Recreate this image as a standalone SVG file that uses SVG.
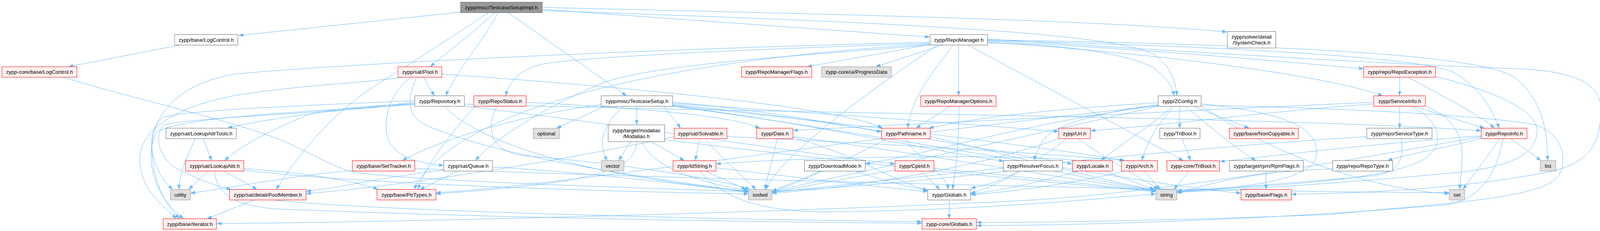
<svg xmlns="http://www.w3.org/2000/svg" width="4104" height="592" viewBox="0 0 4104 592">
<defs>
<marker id="a" markerUnits="userSpaceOnUse" markerWidth="12" markerHeight="9" refX="12" refY="4.5" orient="auto"><path d="M0,0 L12,4.5 L0,9 z" fill="#63b8ff"/></marker>
</defs>
<style>
.e{fill:none;stroke:#63b8ff;stroke-width:1;marker-end:url(#a)}
.n rect{stroke-width:1}
.w rect{fill:#ffffff;stroke:#666666}
.r rect{fill:#fff0f0;stroke:#ff0000}
.g rect{fill:#e0e0e0;stroke:#999999}
.root rect{fill:#999999;stroke:#666666}
text{font-family:"Liberation Sans",Arial,Helvetica,sans-serif;font-size:13.33px;fill:#000;text-anchor:middle}
</style>
<rect width="4104" height="592" fill="#ffffff"/>
<g id="connectors">
<path class="e" d="M1180,31 L611,91"/>
<path class="e" d="M1267,32.5 C1210,85 1150,130 1101,171"/>
<path class="e" d="M1275,32.5 C1240,100 1170,180 1141,245.5"/>
<path class="e" d="M1301,32.5 L1604,245.5"/>
<path class="e" d="M1388,24 L2380,95"/>
<path class="e" d="M1388,19 C2100,36 2800,50 3141,82"/>
<path class="e" d="M1388,27 C2200,55 2850,80 2955,140 C2995,170 3008,200 3013,245.5"/>
<path class="e" d="M1250,32.5 C1150,100 1050,163 960,220 C850,290 760,400 707,485.5"/>
<path class="e" d="M460,115.5 L175,171"/>
<path class="e" d="M161,198 C350,255 600,310 730,363 C800,395 860,430 900,440 C1000,458 1400,475 1916,491"/>
<path class="e" d="M2382,114 L2066,171"/>
<path class="e" d="M2413,115.5 L2242,171"/>
<path class="e" d="M2440,115.5 C2400,170 2330,250 2324,328.5"/>
<path class="e" d="M2454,115.5 L2454,245.5"/>
<path class="e" d="M2478,115.5 L3029,411.5"/>
<path class="e" d="M2381,108 C1500,130 800,170 600,190 C430,220 380,320 390,400 C395,480 430,530 460,560.5"/>
<path class="e" d="M2381,111 C1800,130 1450,150 1380,166 C1330,180 1305,210 1294,245.5"/>
<path class="e" d="M2381,113 C1600,160 1150,300 1060,485.5"/>
<path class="e" d="M2381,115 C2100,140 1700,160 1550,210 C1400,270 1260,360 1217,411.5"/>
<path class="e" d="M2528,105 C3000,130 3300,160 3491,176"/>
<path class="e" d="M2528,108 C3000,140 3400,195 3540,245.5"/>
<path class="e" d="M2528,104 C3200,120 3650,150 3720,185 C3790,225 3820,280 3838,328.5"/>
<path class="e" d="M2528,102 C3300,115 3800,140 3880,200 C3950,260 3960,330 3962,411.5"/>
<path class="e" d="M2528,100 C3300,150 3700,170 3850,175 C4000,178 4098,200 4098,280 C4098,380 4060,420 3960,442 C3700,490 3450,495 3306,498"/>
<path class="e" d="M2528,110 C2700,112 2880,135 2950,172 C2990,200 3000,220 3006,245.5"/>
<path class="e" d="M2400,115.5 C2200,250 2000,400 1960,485.5"/>
<path class="e" d="M1033,198 C900,215 750,220 600,245 C420,280 350,350 358,420 C365,490 420,530 452,560.5"/>
<path class="e" d="M1084,198 L1112,245.5"/>
<path class="e" d="M1053,198 C990,240 975,330 1000,370 C1030,410 1090,420 1136,424"/>
<path class="e" d="M1066,198 C1040,260 1040,300 1100,325 C1300,410 1700,460 1916,493"/>
<path class="e" d="M1131,190 C1500,215 2150,270 2259,328.5"/>
<path class="e" d="M1062,266 C950,270 850,280 800,290 C700,330 620,370 575,411.5"/>
<path class="e" d="M1062,262 C850,285 700,300 582,328.5"/>
<path class="e" d="M1062,258 C800,270 500,280 420,300 C370,330 380,430 442,485.5"/>
<path class="e" d="M1062,265 C850,290 500,300 420,320 C390,350 410,420 470,440 C520,465 560,478 592,485.5"/>
<path class="e" d="M1062,268 C800,285 450,300 400,340 C370,400 390,500 470,560.5"/>
<path class="e" d="M1138,272.5 C1200,340 1400,440 1916,490"/>
<path class="e" d="M1189,267 C2000,290 3300,300 3792,335"/>
<path class="e" d="M1189,272 C1600,320 2100,400 2291,420"/>
<path class="e" d="M1347,262 C1700,280 1880,300 1945,328.5"/>
<path class="e" d="M1272,272.5 C1245,330 1250,390 1350,400 C1600,420 1850,460 1920,485.5"/>
<path class="e" d="M1215,272.5 C1150,350 1090,420 1070,485.5"/>
<path class="e" d="M1548,272.5 L1425,328.5"/>
<path class="e" d="M1597,272.5 C1540,320 1530,370 1555,411.5"/>
<path class="e" d="M1630,272.5 L1630,320"/>
<path class="e" d="M1539,268 C1300,300 1100,370 1030,411.5"/>
<path class="e" d="M1700,272.5 C1720,300 1730,310 1742,328.5"/>
<path class="e" d="M1722,262 C1950,280 2150,320 2257,338"/>
<path class="e" d="M1722,265 C2100,290 2500,320 2710,337"/>
<path class="e" d="M1722,268 C2100,300 2500,380 2745,420"/>
<path class="e" d="M1722,270 C2200,320 2700,380 2880,411.5"/>
<path class="e" d="M1722,271 C2100,320 2400,390 2570,413"/>
<path class="e" d="M1722,272 C2300,350 2900,470 3177,495"/>
<path class="e" d="M2433,272.5 L2345,328.5"/>
<path class="e" d="M2455,272.5 C2455,350 2450,420 2438,485.5"/>
<path class="e" d="M3020,272.5 L3020,328.5"/>
<path class="e" d="M3055,272.5 L3198,328.5"/>
<path class="e" d="M3001,272.5 C2950,320 2870,370 2818,411.5"/>
<path class="e" d="M3006,272.5 C2960,320 2935,370 2923,411.5"/>
<path class="e" d="M3035,272.5 C3080,310 3150,370 3215,411.5"/>
<path class="e" d="M3075,266 C3300,290 3380,330 3370,400 C3360,460 3200,480 3013,492"/>
<path class="e" d="M3075,270 C3400,275 3800,295 3930,320 C4010,345 4010,420 3990,450 C3950,510 3700,520 3400,550 C3000,565 2700,570 2500,570"/>
<path class="e" d="M3075,272 C3300,420 3550,490 3710,496"/>
<path class="e" d="M2965,268 C2800,290 2700,320 2670,360 C2655,385 2650,400 2648,411.5"/>
<path class="e" d="M2965,270 C2600,320 2400,390 2215,420"/>
<path class="e" d="M2965,263 C2700,280 2500,300 2378,328.5"/>
<path class="e" d="M2965,272 C2500,380 2100,460 1976,492"/>
<path class="e" d="M2965,271 C2200,350 1500,470 1116,494"/>
<path class="e" d="M3583,272.5 L3583,328.5"/>
<path class="e" d="M3620,272.5 L3800,328.5"/>
<path class="e" d="M3649,272 C3720,300 3745,350 3743,400 C3742,440 3738,460 3737,485.5"/>
<path class="e" d="M3612,272.5 C3690,310 3700,370 3650,405 C3580,450 3400,470 3013,490"/>
<path class="e" d="M3517,266 C3200,290 3000,320 2792,335"/>
<path class="e" d="M3517,262 C3000,285 2300,320 2030,334"/>
<path class="e" d="M3583,198 L3583,245.5"/>
<path class="e" d="M3605,198 C3700,250 3780,290 3826,328.5"/>
<path class="e" d="M3675,196 C3850,240 3940,290 3935,340 C3930,400 3860,425 3750,440 C3600,455 3300,480 3013,493"/>
<path class="e" d="M3868,355.5 L3945,411.5"/>
<path class="e" d="M3839,355.5 C3810,400 3770,450 3745,485.5"/>
<path class="e" d="M3795,353 C3700,380 3600,395 3552,411.5"/>
<path class="e" d="M3792,348 C3500,370 3300,395 3123,414"/>
<path class="e" d="M3848,355.5 C3830,450 3790,510 3700,525 C3300,560 2800,578 2500,578"/>
<path class="e" d="M3792,350 C3300,440 2900,500 2600,515 C2000,545 1000,570 555,573"/>
<path class="e" d="M500,355.5 C480,400 460,440 458,485.5"/>
<path class="e" d="M520,355.5 L542,411.5"/>
<path class="e" d="M533,438.5 L483,485.5"/>
<path class="e" d="M574,438.5 L658,485.5"/>
<path class="e" d="M549,438.5 C555,500 600,525 700,535 C1300,560 2000,570 2360,572"/>
<path class="e" d="M624,432 C750,440 900,460 968,485.5"/>
<path class="e" d="M624,436 C900,470 1500,490 1916,497"/>
<path class="e" d="M1062,432 C1800,460 3000,490 3710,494"/>
<path class="e" d="M902,437 C750,450 600,480 487.5,495"/>
<path class="e" d="M1171,438.5 L1075,485.5"/>
<path class="e" d="M1136,436 C1000,450 880,480 783.5,490"/>
<path class="e" d="M1261,428 C1500,440 1800,480 1916,491"/>
<path class="e" d="M1614,363 L1584,411.5"/>
<path class="e" d="M1668,363 L1752,411.5"/>
<path class="e" d="M1643,363 C1670,420 1750,460 1916,489"/>
<path class="e" d="M1630,363 C1630,440 1500,470 1116,497"/>
<path class="e" d="M1701,358 C2200,420 2700,470 2959,491"/>
<path class="e" d="M1791,355.5 L1780,411.5"/>
<path class="e" d="M1806,355.5 C1850,410 1900,450 1935,485.5"/>
<path class="e" d="M1726,350 C1400,420 1000,480 783.5,496"/>
<path class="e" d="M1861,350 C2300,370 2700,395 2878,411.5"/>
<path class="e" d="M1806,438.5 L1910,485.5"/>
<path class="e" d="M1793,438.5 C1850,510 1950,540 2100,543 C2500,540 2800,510 2959,497"/>
<path class="e" d="M1833,430 C2000,450 2250,480 2375,491"/>
<path class="e" d="M1990,355.5 C1980,400 1965,450 1958,485.5"/>
<path class="e" d="M2030,350 C2400,400 2800,470 2959,489"/>
<path class="e" d="M2030,352 C2200,400 2300,470 2375,487"/>
<path class="e" d="M2319,355.5 C2340,400 2420,440 2428,485.5"/>
<path class="e" d="M2270,355.5 C2150,420 2050,460 1976,490"/>
<path class="e" d="M2381,350 C2600,400 2850,470 2959,487"/>
<path class="e" d="M2712,355 C2500,430 2200,480 1976,495"/>
<path class="e" d="M2760,355.5 C2850,420 2930,460 2965,485.5"/>
<path class="e" d="M2730,355.5 C2650,420 2550,480 2485,495"/>
<path class="e" d="M3026,355.5 L3048,411.5"/>
<path class="e" d="M3587,355.5 C3595,410 3580,440 3520,450 C3300,470 3100,485 3013,489"/>
<path class="e" d="M3499,350 C3000,380 2200,470 1976,493"/>
<path class="e" d="M2190,438.5 C2250,460 2320,478 2375,488"/>
<path class="e" d="M2105,438.5 C2060,460 2010,480 1976,492"/>
<path class="e" d="M2357,438.5 L2406,485.5"/>
<path class="e" d="M2291,436 C2150,460 2050,480 1976,494"/>
<path class="e" d="M2391,432 C2600,450 2850,480 2959,490"/>
<path class="e" d="M2607,438.5 C2570,460 2530,475 2485,482"/>
<path class="e" d="M2580,438.5 C2300,470 2100,485 1976,490"/>
<path class="e" d="M2700,438.5 C2800,460 2900,480 2959,487"/>
<path class="e" d="M2827,438.5 L2955,485.5"/>
<path class="e" d="M2760,411.5 C2600,395 2100,400 1833,420"/>
<path class="e" d="M2760,438.5 C2650,470 2550,490 2485,497"/>
<path class="e" d="M2930,438.5 L2970,485.5"/>
<path class="e" d="M2880,438.5 C2700,480 2550,495 2485,499"/>
<path class="e" d="M3044,438.5 L3005,485.5"/>
<path class="e" d="M3241,438.5 L3241,485.5"/>
<path class="e" d="M3411,433 C3200,440 3100,470 3013,495"/>
<path class="e" d="M650,512.5 L530,560.5"/>
<path class="e" d="M700,512.5 C1000,545 2000,565 2360,568"/>
<path class="e" d="M2430,512.5 L2430,560.5"/>
</g>
<g id="n0" class="n root"><rect x="1179" y="5.5" width="209" height="27"/><text x="1283.5" y="23.5">zypp/misc/TestcaseSetupImpl.h</text></g>
<g id="n1" class="n w"><rect x="447" y="88.5" width="162" height="27"/><text x="528" y="106.5">zypp/base/LogControl.h</text></g>
<g id="n2" class="n w"><rect x="2381" y="88.5" width="147" height="27"/><text x="2454.5" y="106.5">zypp/RepoManager.h</text></g>
<g id="n3" class="n w"><rect x="3142" y="80.5" width="124" height="42.5"/><text x="3204" y="99">zypp/solver/detail</text><text x="3204" y="114">/SystemCheck.h</text></g>
<g id="n4" class="n r"><rect x="5" y="171" width="192" height="27"/><text x="101" y="189">zypp-core/base/LogControl.h</text></g>
<g id="n5" class="n r"><rect x="1019" y="171" width="112" height="27"/><text x="1075" y="189">zypp/sat/Pool.h</text></g>
<g id="n6" class="n r"><rect x="1898" y="171" width="180" height="27"/><text x="1988" y="189">zypp/RepoManagerFlags.h</text></g>
<g id="n7" class="n g"><rect x="2103" y="171" width="179" height="27"/><text x="2192.5" y="189">zypp-core/ui/ProgressData</text></g>
<g id="n8" class="n r"><rect x="3491" y="171" width="184" height="27"/><text x="3583" y="189">zypp/repo/RepoException.h</text></g>
<g id="n9" class="n w"><rect x="1062" y="245.5" width="127" height="27"/><text x="1125.5" y="263.5">zypp/Repository.h</text></g>
<g id="n10" class="n r"><rect x="1213" y="245.5" width="134" height="27"/><text x="1280" y="263.5">zypp/RepoStatus.h</text></g>
<g id="n11" class="n w"><rect x="1539" y="245.5" width="183" height="27"/><text x="1630.5" y="263.5">zypp/misc/TestcaseSetup.h</text></g>
<g id="n12" class="n r"><rect x="2357" y="245.5" width="193" height="27"/><text x="2453.5" y="263.5">zypp/RepoManagerOptions.h</text></g>
<g id="n13" class="n w"><rect x="2965" y="245.5" width="110" height="27"/><text x="3020" y="263.5">zypp/ZConfig.h</text></g>
<g id="n14" class="n r"><rect x="3517" y="245.5" width="132" height="27"/><text x="3583" y="263.5">zypp/ServiceInfo.h</text></g>
<g id="n15" class="n w"><rect x="425" y="328.5" width="180" height="27"/><text x="515" y="346.5">zypp/sat/LookupAttrTools.h</text></g>
<g id="n16" class="n g"><rect x="1365" y="328.5" width="67" height="27"/><text x="1398.5" y="346.5">optional</text></g>
<g id="n17" class="n w"><rect x="1557" y="320" width="144.5" height="43"/><text x="1629" y="338.5">zypp/target/modalias</text><text x="1629" y="354">/Modalias.h</text></g>
<g id="n18" class="n r"><rect x="1726" y="328.5" width="135" height="27"/><text x="1793.5" y="346.5">zypp/sat/Solvable.h</text></g>
<g id="n19" class="n r"><rect x="1937" y="328.5" width="93" height="27"/><text x="1983.5" y="346.5">zypp/Date.h</text></g>
<g id="n20" class="n r"><rect x="2257" y="328.5" width="124.5" height="27"/><text x="2319" y="346.5">zypp/Pathname.h</text></g>
<g id="n21" class="n r"><rect x="2710.5" y="328.5" width="81" height="27"/><text x="2751" y="346.5">zypp/Url.h</text></g>
<g id="n22" class="n w"><rect x="2969" y="328.5" width="103" height="27"/><text x="3020.5" y="346.5">zypp/TriBool.h</text></g>
<g id="n23" class="n r"><rect x="3147" y="328.5" width="177" height="27"/><text x="3235.5" y="346.5">zypp/base/NonCopyable.h</text></g>
<g id="n24" class="n w"><rect x="3499" y="328.5" width="167" height="27"/><text x="3582.5" y="346.5">zypp/repo/ServiceType.h</text></g>
<g id="n25" class="n r"><rect x="3792" y="328.5" width="117" height="27"/><text x="3850.5" y="346.5">zypp/RepoInfo.h</text></g>
<g id="n26" class="n r"><rect x="475" y="411.5" width="149" height="27"/><text x="549.5" y="429.5">zypp/sat/LookupAttr.h</text></g>
<g id="n27" class="n r"><rect x="902" y="411.5" width="160" height="27"/><text x="982" y="429.5">zypp/base/SetTracker.h</text></g>
<g id="n28" class="n w"><rect x="1136" y="411.5" width="125" height="27"/><text x="1198.5" y="429.5">zypp/sat/Queue.h</text></g>
<g id="n29" class="n g"><rect x="1539.5" y="411.5" width="58" height="27"/><text x="1568.5" y="429.5">vector</text></g>
<g id="n30" class="n r"><rect x="1723" y="411.5" width="110" height="27"/><text x="1778" y="429.5">zypp/IdString.h</text></g>
<g id="n31" class="n w"><rect x="2059.5" y="411.5" width="155.5" height="27"/><text x="2137" y="429.5">zypp/DownloadMode.h</text></g>
<g id="n32" class="n r"><rect x="2291" y="411.5" width="100" height="27"/><text x="2341" y="429.5">zypp/CpeId.h</text></g>
<g id="n33" class="n w"><rect x="2568.5" y="411.5" width="151.5" height="27"/><text x="2644" y="429.5">zypp/ResolverFocus.h</text></g>
<g id="n34" class="n r"><rect x="2745.5" y="411.5" width="102.5" height="27"/><text x="2797" y="429.5">zypp/Locale.h</text></g>
<g id="n35" class="n r"><rect x="2871" y="411.5" width="92" height="27"/><text x="2917" y="429.5">zypp/Arch.h</text></g>
<g id="n36" class="n r"><rect x="2987" y="411.5" width="135" height="27"/><text x="3054.5" y="429.5">zypp-core/TriBool.h</text></g>
<g id="n37" class="n w"><rect x="3147" y="411.5" width="189.5" height="27"/><text x="3242" y="429.5">zypp/target/rpm/RpmFlags.h</text></g>
<g id="n38" class="n w"><rect x="3411.5" y="411.5" width="153.5" height="27"/><text x="3488" y="429.5">zypp/repo/RepoType.h</text></g>
<g id="n39" class="n g"><rect x="3943" y="411.5" width="40" height="27"/><text x="3963" y="429.5">list</text></g>
<g id="n40" class="n g"><rect x="436.5" y="485.5" width="51" height="27"/><text x="462" y="503.5">utility</text></g>
<g id="n41" class="n r"><rect x="587.5" y="485.5" width="196" height="27"/><text x="685.5" y="503.5">zypp/sat/detail/PoolMember.h</text></g>
<g id="n42" class="n r"><rect x="965" y="485.5" width="151" height="27"/><text x="1040.5" y="503.5">zypp/base/PtrTypes.h</text></g>
<g id="n43" class="n g"><rect x="1916" y="485.5" width="60" height="27"/><text x="1946" y="503.5">iosfwd</text></g>
<g id="n44" class="n w"><rect x="2375" y="485.5" width="110" height="27"/><text x="2430" y="503.5">zypp/Globals.h</text></g>
<g id="n45" class="n g"><rect x="2959" y="485.5" width="53.5" height="27"/><text x="2986" y="503.5">string</text></g>
<g id="n46" class="n r"><rect x="3177" y="485.5" width="129" height="27"/><text x="3241.5" y="503.5">zypp/base/Flags.h</text></g>
<g id="n47" class="n g"><rect x="3710" y="485.5" width="39.5" height="27"/><text x="3730" y="503.5">set</text></g>
<g id="n48" class="n r"><rect x="417.5" y="560.5" width="136.5" height="27"/><text x="486" y="578.5">zypp/base/Iterator.h</text></g>
<g id="n49" class="n r"><rect x="2360.5" y="560.5" width="139" height="27"/><text x="2430" y="578.5">zypp-core/Globals.h</text></g>
</svg>
